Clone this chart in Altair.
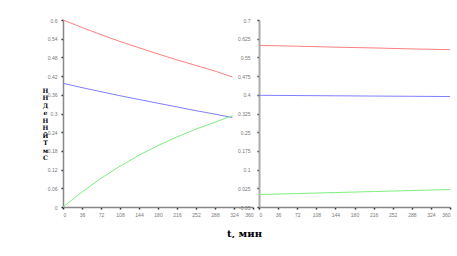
import altair as alt
import pandas as pd

# ---- data ----
series = ["A", "B", "C"]
colors = ["#ff7f7f", "#7f7fff", "#7fef7f"]

t_left = [0, 36, 72, 108, 144, 180, 216, 252, 288, 321]
red_left = [0.600, 0.576, 0.553, 0.531, 0.511, 0.491, 0.472, 0.454, 0.436, 0.417]
blue_left = [0.397, 0.383, 0.370, 0.357, 0.345, 0.333, 0.321, 0.309, 0.298, 0.287]
green_left = [0.000, 0.048, 0.092, 0.131, 0.166, 0.197, 0.225, 0.250, 0.272, 0.293]

t_right = [0, 72, 144, 216, 288, 360]
red_right = [0.598, 0.595, 0.591, 0.588, 0.584, 0.581]
blue_right = [0.398, 0.397, 0.396, 0.395, 0.394, 0.393]
green_right = [0.000, 0.004, 0.008, 0.012, 0.016, 0.020]

x_ticks = [0, 36, 72, 108, 144, 180, 216, 252, 288, 324, 360]
y_ticks_left = [0, 0.06, 0.12, 0.18, 0.24, 0.3, 0.36, 0.42, 0.48, 0.54, 0.6]
y_ticks_right = [-0.05, 0.025, 0.1, 0.175, 0.25, 0.325, 0.4, 0.475, 0.55, 0.625, 0.7]

y_title = ["Н", "Н", "Д", "е", "Н", "Н", "Й", "Т", "м", "С"]
x_title = "t, мин"


def long_df(t, a, b, c):
    rows = []
    for name, vals in zip(series, [a, b, c]):
        for ti, v in zip(t, vals):
            rows.append({"t": ti, "v": v, "s": name})
    return pd.DataFrame(rows)


df_left = long_df(t_left, red_left, blue_left, green_left)
df_right = long_df(t_right, red_right, blue_right, green_right)

color = alt.Color("s:N", scale=alt.Scale(domain=series, range=colors), legend=None)

label_style = dict(
    labelFont="Liberation Sans",
    labelFontSize=5,
    labelColor="#777777",
    tickColor="#222222",
    tickSize=2,
    tickWidth=1.5,
    grid=False,
)

left = alt.Chart(df_left).mark_line(strokeWidth=1, clip=False).encode(
    x=alt.X(
        "t:Q",
        scale=alt.Scale(domain=[0, 360], nice=False, zero=False),
        axis=alt.Axis(
            values=x_ticks,
            title=x_title,
            titleFont="DejaVu Serif",
            titleFontWeight="bold",
            titleFontSize=10,
            titleColor="black",
            titleX=181,
            titleY=29,
            titleAlign="center",
            titleBaseline="alphabetic",
            domainColor="#888888",
            domainWidth=1.5,
            labelPadding=3,
            **label_style,
        ),
    ),
    y=alt.Y(
        "v:Q",
        scale=alt.Scale(domain=[0, 0.6], nice=False, zero=False),
        axis=alt.Axis(
            values=y_ticks_left,
            labelExpr="'' + datum.value",
            title=y_title,
            titleAngle=0,
            titleFont="DejaVu Serif",
            titleFontWeight="bold",
            titleFontSize=6.2,
            titleLineHeight=7.5,
            titleColor="black",
            titleX=-18,
            titleY=67,
            titleAlign="center",
            titleBaseline="top",
            domainColor="#888888",
            domainWidth=1.5,
            labelPadding=4,
            **label_style,
        ),
    ),
    color=color,
).properties(width=190, height=187)

right = alt.Chart(df_right).mark_line(strokeWidth=1, clip=False).encode(
    x=alt.X(
        "t:Q",
        scale=alt.Scale(domain=[0, 360], nice=False, zero=False),
        axis=alt.Axis(
            values=x_ticks,
            title=None,
            domainColor="#888888",
            domainWidth=1.5,
            labelPadding=3,
            **label_style,
        ),
    ),
    y=alt.Y(
        "v:Q",
        scale=alt.Scale(domain=[-0.05, 0.7], nice=False, zero=False),
        axis=alt.Axis(
            values=y_ticks_right,
            labelExpr="'' + datum.value",
            title=None,
            domainColor="#aaaaaa",
            domainWidth=2,
            labelPadding=7,
            **label_style,
        ),
    ),
    color=color,
).properties(width=191, height=187)

chart = alt.hconcat(left, right, spacing=6, bounds="flush").properties(
    padding={"left": 42, "top": 18, "right": 0, "bottom": 0},
    background="white",
).configure_view(stroke=None)

chart.save("out.html", embed_options={"renderer": "svg", "actions": False})
